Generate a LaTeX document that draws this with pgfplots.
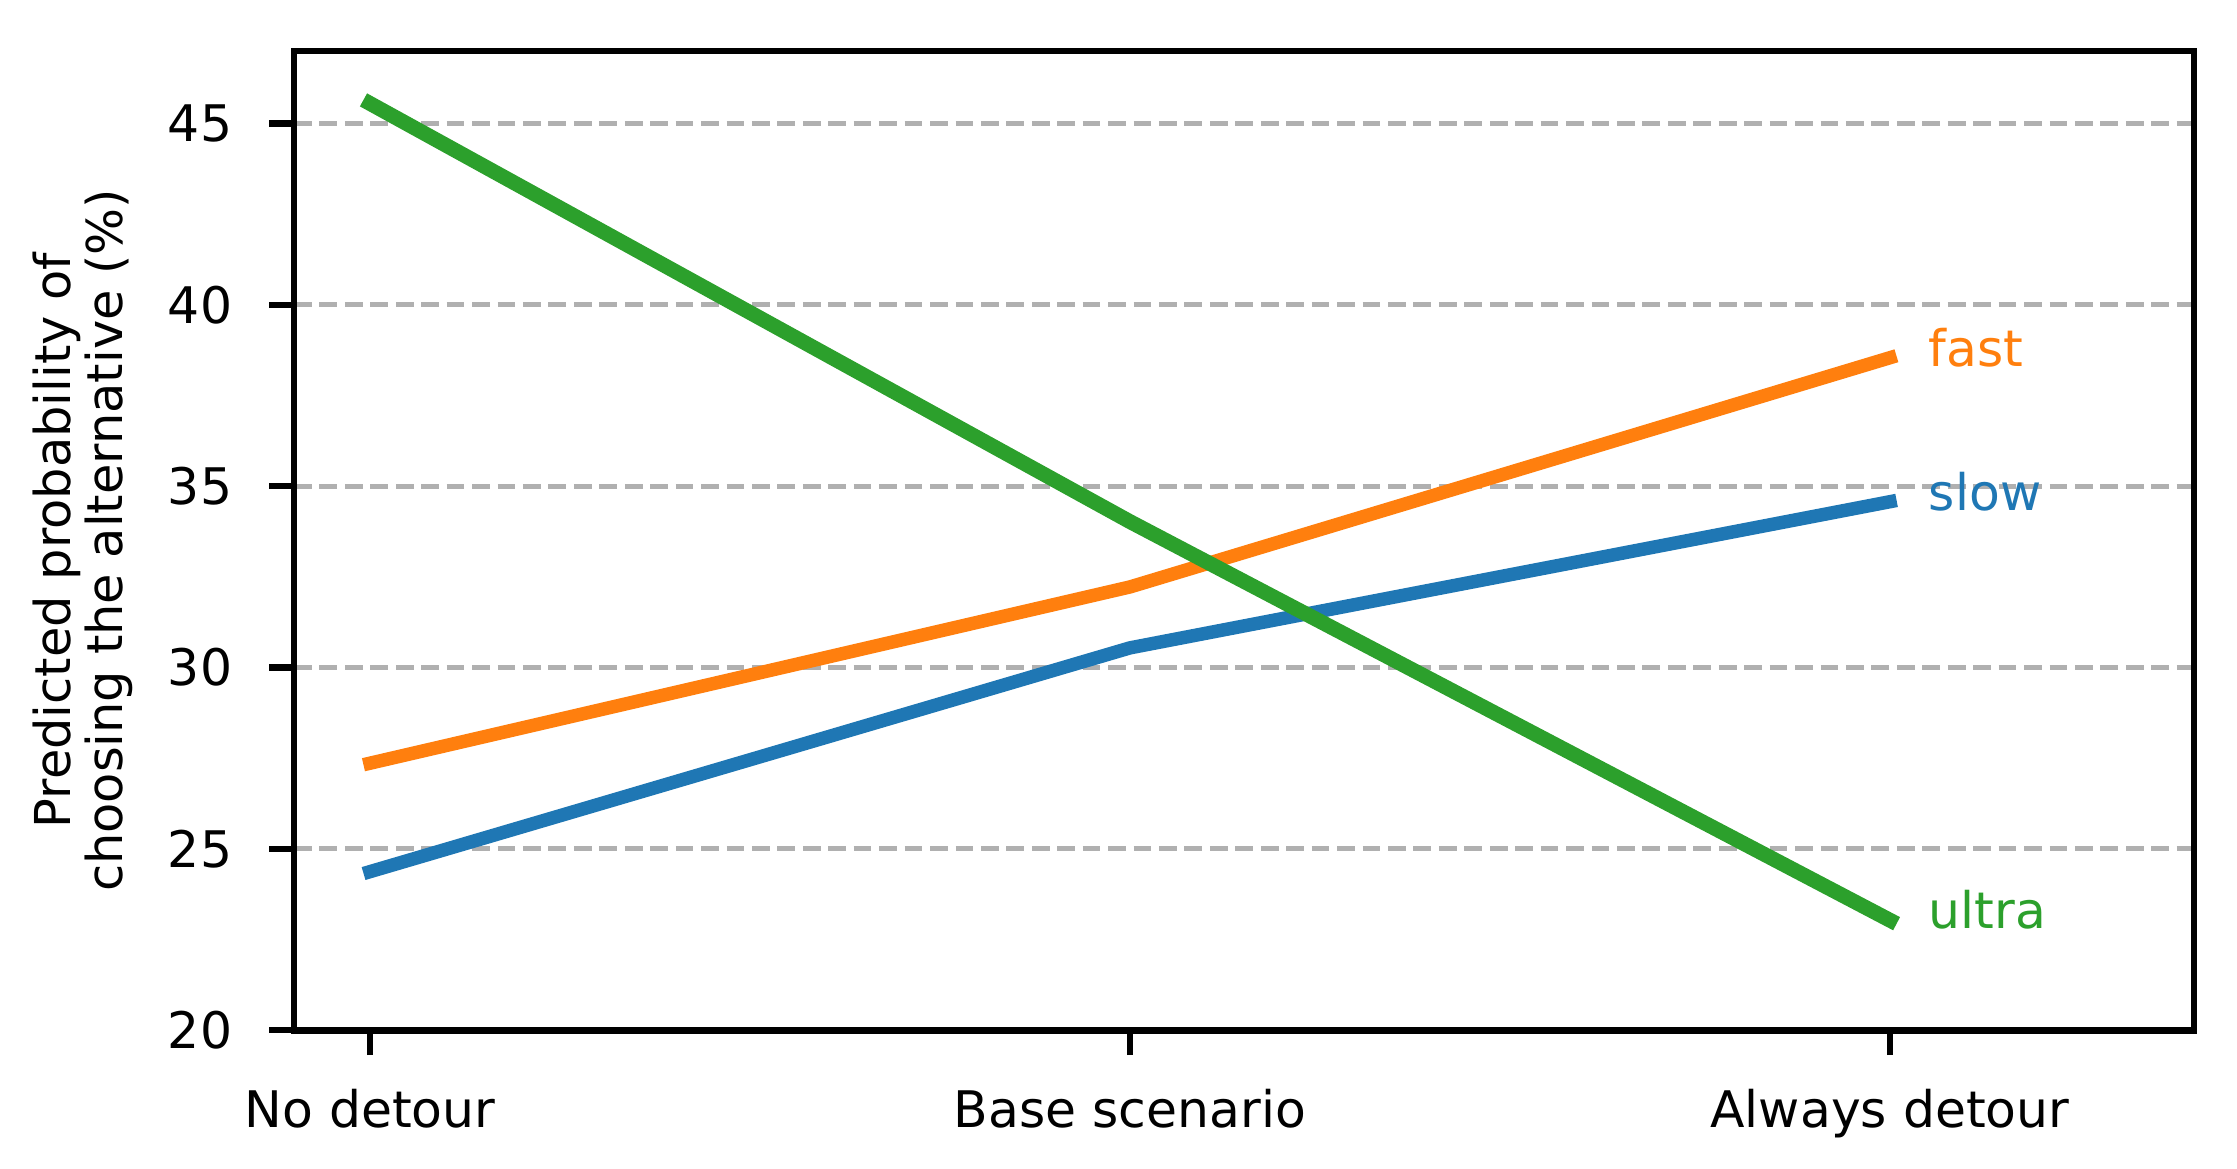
\documentclass[border=0pt]{standalone}
\usepackage{pgfplots}
\pgfplotsset{compat=1.18}
\usepackage{fontspec}
\setmainfont{DejaVu Sans}
\definecolor{tabblue}{HTML}{1F77B4}
\definecolor{taborange}{HTML}{FF7F0E}
\definecolor{tabgreen}{HTML}{2CA02C}
\definecolor{gridgray}{HTML}{B0B0B0}
\begin{document}
\begin{tikzpicture}
\begin{axis}[
  scale only axis, width=395.8pt, height=204pt,
  xmin=-0.1, xmax=2.4, ymin=20, ymax=47,
  xtick={0,1,2}, xticklabels={No detour, Base scenario, Always detour},
  ytick={20,25,30,35,40,45},
  tick align=outside, tick pos=left,
  major tick length=5.2pt,
  every tick/.style={black, line width=1.3pt},
  axis line style={line width=1.4pt},
  ymajorgrids,
  major grid style={color=gridgray, dash pattern=on 3.7pt off 1.6pt, line width=1pt},
  /pgf/number format/assume math mode=true,
  tick label style={font=\fontsize{10.5}{12.6}\selectfont},
  yticklabel style={anchor=east, inner sep=0pt},
  yticklabel shift=7.5pt,
  xticklabel style={anchor=north, inner sep=0pt},
  xticklabel shift=7.0pt,
  ylabel={Predicted probability of\\choosing the alternative (\%)},
  ylabel style={at={(axis description cs:-0.1112,0.5)}, anchor=center, align=center, font=\fontsize{10.3}{10.8}\selectfont, inner sep=0pt},
  clip=false,
]
\addplot[tabblue, line width=2.8pt, line cap=rect] coordinates {(0,24.37) (1,30.54) (2,34.57)};
\addplot[taborange, line width=2.8pt, line cap=rect] coordinates {(0,27.36) (1,32.22) (2,38.54)};
\addplot[tabgreen, line width=3.1pt, line cap=rect] coordinates {(0,45.55) (1,34.02) (2,23.03)};
\node[anchor=west, inner sep=0pt, text=taborange, font=\fontsize{10.5}{12.6}\selectfont, yshift=2.1pt] at (axis cs:2.05,38.54) {fast};
\node[anchor=west, inner sep=0pt, text=tabblue, font=\fontsize{10.5}{12.6}\selectfont, yshift=2.1pt] at (axis cs:2.05,34.57) {slow};
\node[anchor=west, inner sep=0pt, text=tabgreen, font=\fontsize{10.5}{12.6}\selectfont, yshift=2.1pt] at (axis cs:2.05,23.03) {ultra};
\coordinate (SW) at (rel axis cs:0,0);
\coordinate (NE) at (rel axis cs:1,1);
\end{axis}
\pgfresetboundingbox
\path ([shift={(-61.25pt,-28.75pt)}]SW) rectangle ([shift={(8.96pt,10.6pt)}]NE);
\end{tikzpicture}
\end{document}
